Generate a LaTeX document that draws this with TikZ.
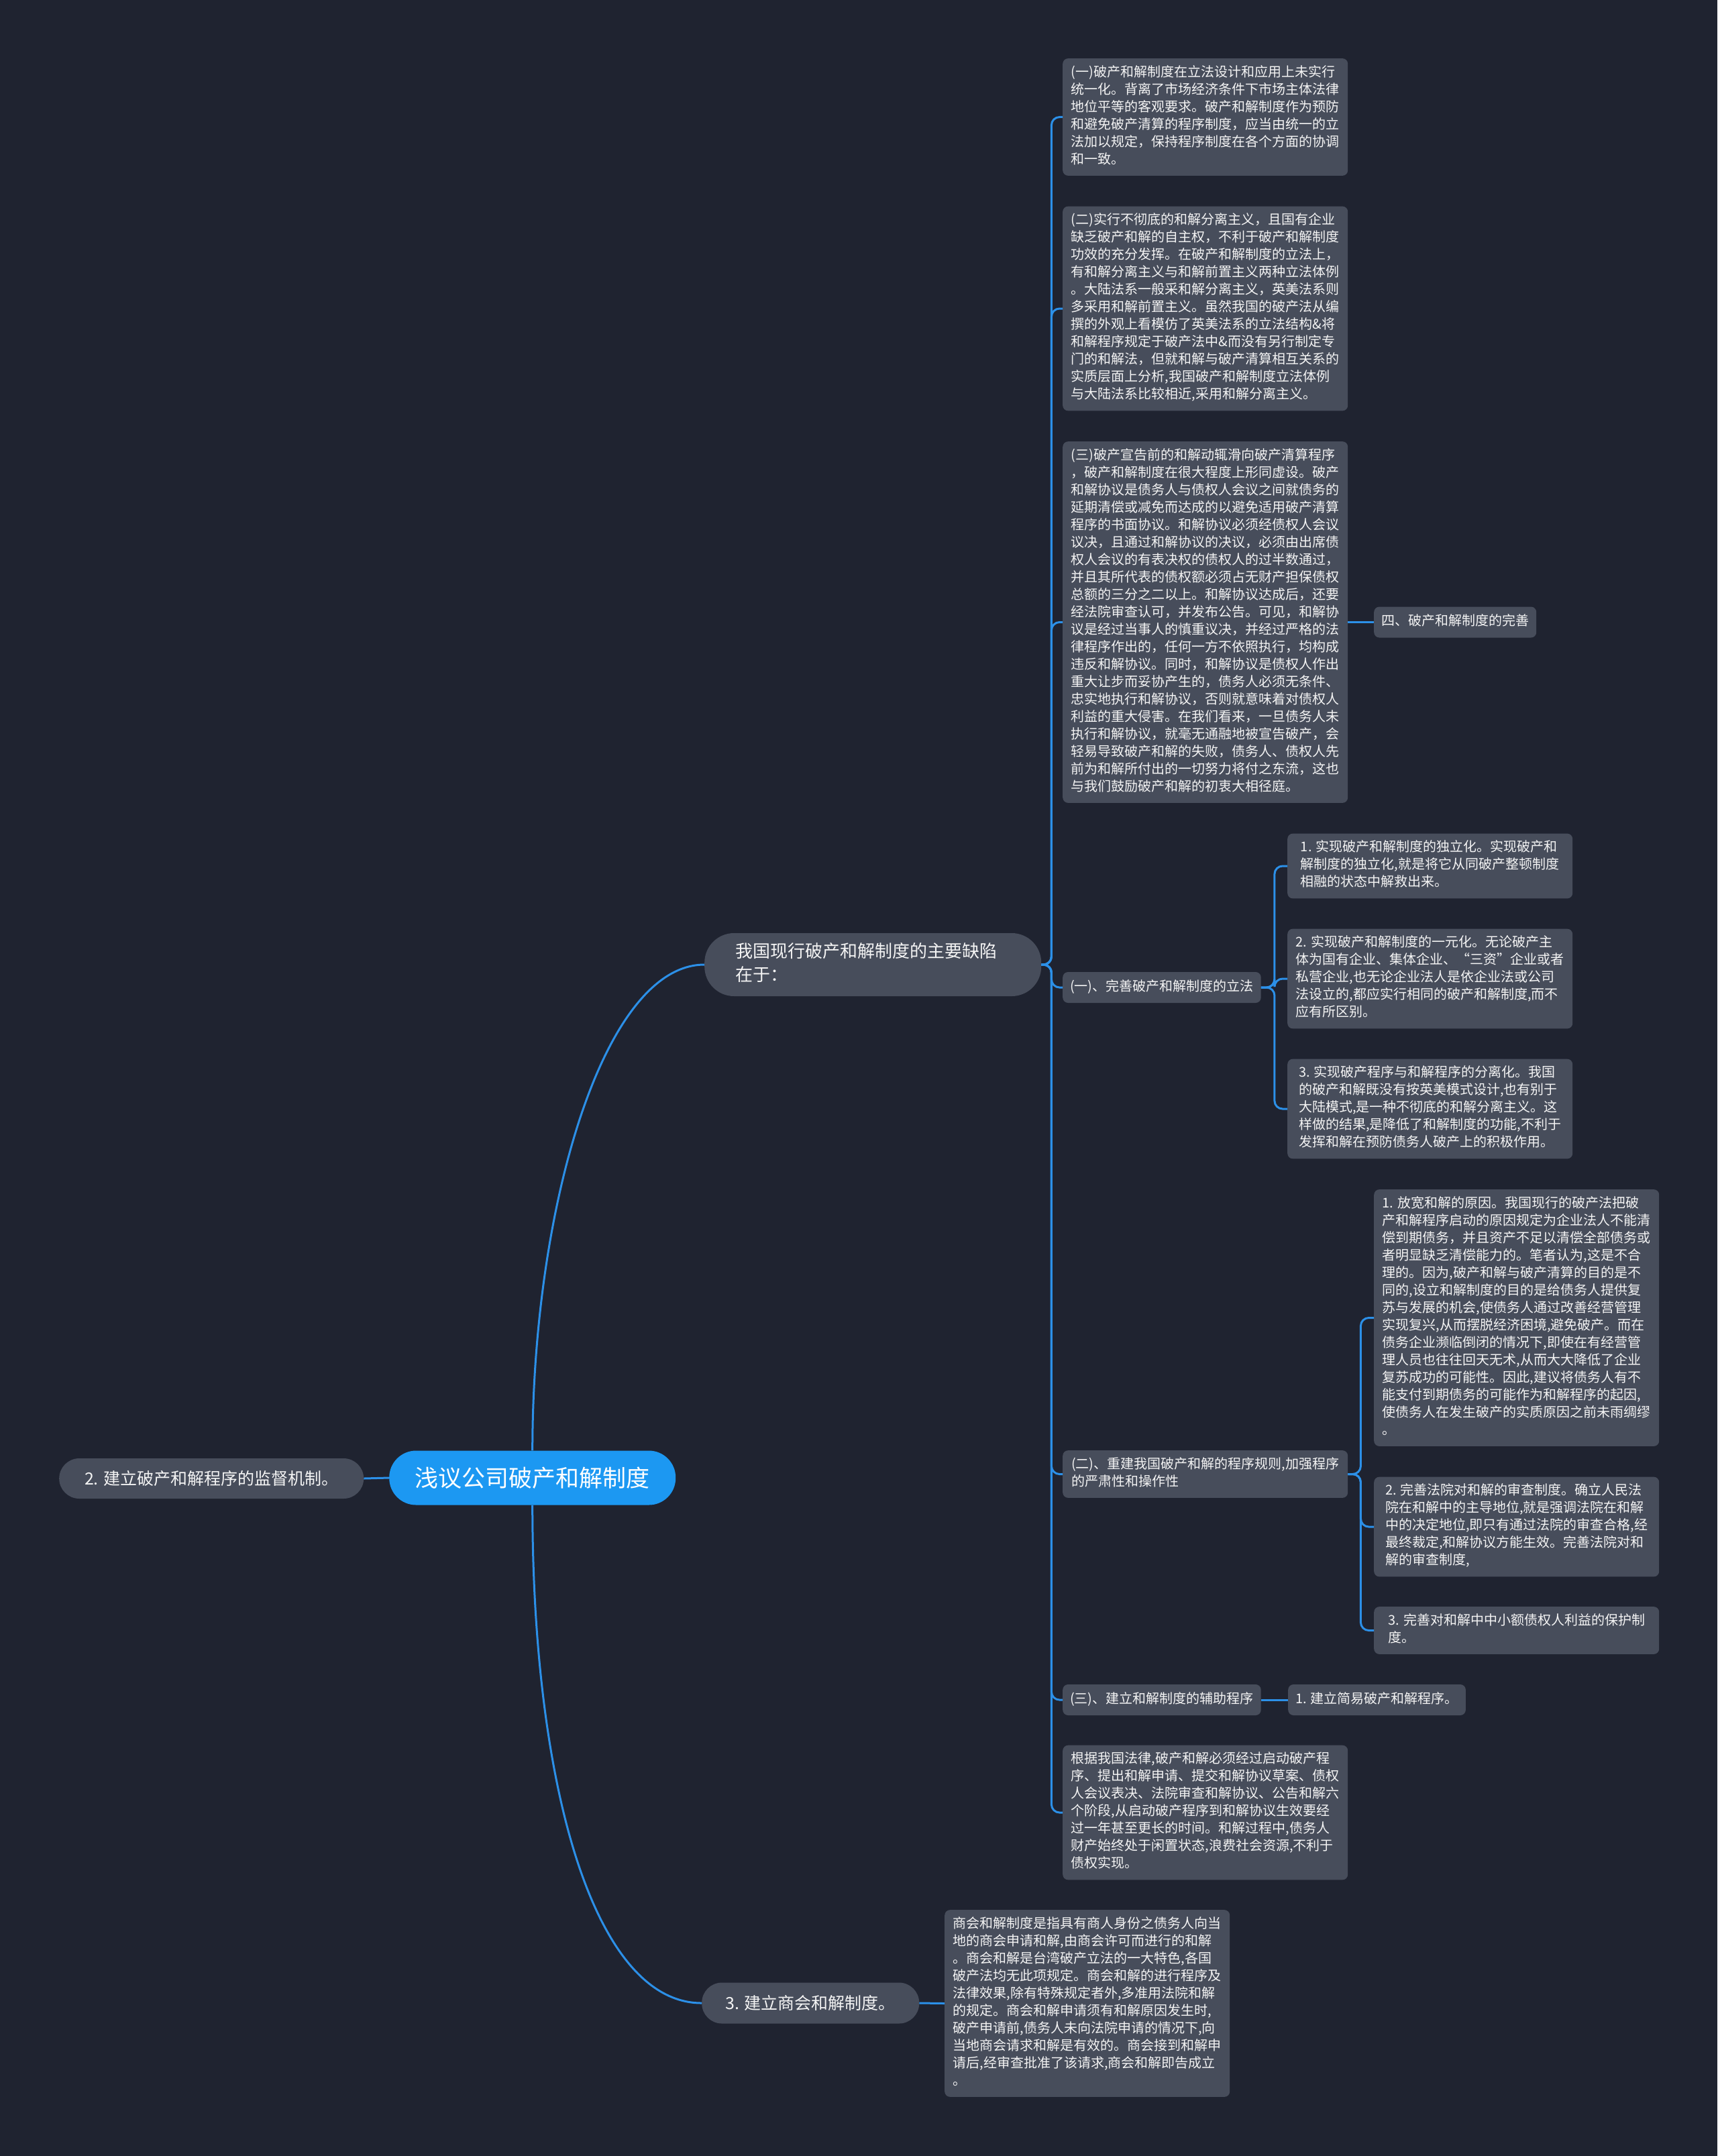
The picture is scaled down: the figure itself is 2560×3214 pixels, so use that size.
\documentclass[tikz,border=0pt]{standalone}
\usepackage{fontspec}
\newfontfamily\cjk{Noto Sans CJK SC}
\definecolor{bgc}{HTML}{1F2330}
\definecolor{boxc}{HTML}{474D5B}
\definecolor{linec}{HTML}{2C90E8}
\definecolor{rootc}{HTML}{1C98F2}
\definecolor{txtc}{HTML}{F4F4F4}
\begin{document}
\begin{tikzpicture}[x=1pt,y=-1pt,
  box/.style={anchor=west, fill=boxc, rounded corners=8pt, text=txtc, align=left,
    font=\cjk\fontsize{20}{26}\selectfont, inner xsep=11pt, inner ysep=10pt,
    execute at begin node=\strut, execute at end node=\strut},
  wbox/.style={box, minimum width=425pt},
  lvlone/.style={anchor=west, fill=boxc, text=txtc,
    font=\cjk\fontsize{25}{35}\selectfont, inner sep=0pt, rounded corners=30pt},
  rootnode/.style={anchor=west, fill=rootc, text=white, rounded corners=40pt,
    minimum width=427pt, minimum height=81pt, inner sep=0pt,
    font=\cjk\fontsize{35}{44}\selectfont},
  conn/.style={draw=linec, line width=3pt},
  elbow/.style={conn, rounded corners=12pt},
]
\fill[bgc] (0,0) rectangle (2560,3214);
\useasboundingbox (0,0) rectangle (2560,3214);

% root and first level
\node[rootnode] (root) at (580,2203) {浅议公司破产和解制度};
\node[lvlone, minimum width=454pt, minimum height=60pt] (L) at (88,2204) {2. 建立破产和解程序的监督机制。};
\node[lvlone, minimum width=502pt, text width=410pt, align=left, inner xsep=46pt, inner ysep=12pt,
  rounded corners=44pt, font=\cjk\fontsize{26}{35}\selectfont,
  execute at begin node=\strut, execute at end node=\strut] (N1) at (1050,1438)
  {我国现行破产和解制度的主要缺陷\\在于：};
\node[lvlone, minimum width=324pt, minimum height=61pt] (N3) at (1046,2986) {3. 建立商会和解制度。};

% children of N1
\node[wbox] (A1) at (1584,174.5) {(一)破产和解制度在立法设计和应用上未实行\\
统一化。背离了市场经济条件下市场主体法律\\
地位平等的客观要求。破产和解制度作为预防\\
和避免破产清算的程序制度，应当由统一的立\\
法加以规定，保持程序制度在各个方面的协调\\
和一致。};
\node[wbox] (A2) at (1584,460) {(二)实行不彻底的和解分离主义，且国有企业\\
缺乏破产和解的自主权，不利于破产和解制度\\
功效的充分发挥。在破产和解制度的立法上，\\
有和解分离主义与和解前置主义两种立法体例\\
。大陆法系一般采和解分离主义，英美法系则\\
多采用和解前置主义。虽然我国的破产法从编\\
撰的外观上看模仿了英美法系的立法结构\&将\\
和解程序规定于破产法中\&而没有另行制定专\\
门的和解法，但就和解与破产清算相互关系的\\
实质层面上分析,我国破产和解制度立法体例\\
与大陆法系比较相近,采用和解分离主义。};
\node[wbox] (A3) at (1584,927.5) {(三)破产宣告前的和解动辄滑向破产清算程序\\
，破产和解制度在很大程度上形同虚设。破产\\
和解协议是债务人与债权人会议之间就债务的\\
延期清偿或减免而达成的以避免适用破产清算\\
程序的书面协议。和解协议必须经债权人会议\\
议决，且通过和解协议的决议，必须由出席债\\
权人会议的有表决权的债权人的过半数通过，\\
并且其所代表的债权额必须占无财产担保债权\\
总额的三分之二以上。和解协议达成后，还要\\
经法院审查认可，并发布公告。可见，和解协\\
议是经过当事人的慎重议决，并经过严格的法\\
律程序作出的，任何一方不依照执行，均构成\\
违反和解协议。同时，和解协议是债权人作出\\
重大让步而妥协产生的，债务人必须无条件、\\
忠实地执行和解协议，否则就意味着对债权人\\
利益的重大侵害。在我们看来，一旦债务人未\\
执行和解协议，就毫无通融地被宣告破产，会\\
轻易导致破产和解的失败，债务人、债权人先\\
前为和解所付出的一切努力将付之东流，这也\\
与我们鼓励破产和解的初衷大相径庭。};
\node[box] (S4) at (2048,927.5) {四、破产和解制度的完善};

\node[box] (A4) at (1584,1472) {(一)、完善破产和解制度的立法};
\node[wbox] (B1) at (1919,1291) {1. 实现破产和解制度的独立化。实现破产和\\
解制度的独立化,就是将它从同破产整顿制度\\
相融的状态中解救出来。};
\node[wbox] (B2) at (1919,1459) {2. 实现破产和解制度的一元化。无论破产主\\
体为国有企业、集体企业、“三资”企业或者\\
私营企业,也无论企业法人是依企业法或公司\\
法设立的,都应实行相同的破产和解制度,而不\\
应有所区别。};
\node[wbox] (B3) at (1919,1653) {3. 实现破产程序与和解程序的分离化。我国\\
的破产和解既没有按英美模式设计,也有别于\\
大陆模式,是一种不彻底的和解分离主义。这\\
样做的结果,是降低了和解制度的功能,不利于\\
发挥和解在预防债务人破产上的积极作用。};

\node[wbox] (A5) at (1584,2197.5) {(二)、重建我国破产和解的程序规则,加强程序\\
的严肃性和操作性};
\node[wbox] (C1) at (2048,1964.5) {1. 放宽和解的原因。我国现行的破产法把破\\
产和解程序启动的原因规定为企业法人不能清\\
偿到期债务，并且资产不足以清偿全部债务或\\
者明显缺乏清偿能力的。笔者认为,这是不合\\
理的。因为,破产和解与破产清算的目的是不\\
同的,设立和解制度的目的是给债务人提供复\\
苏与发展的机会,使债务人通过改善经营管理\\
实现复兴,从而摆脱经济困境,避免破产。而在\\
债务企业濒临倒闭的情况下,即使在有经营管\\
理人员也往往回天无术,从而大大降低了企业\\
复苏成功的可能性。因此,建议将债务人有不\\
能支付到期债务的可能作为和解程序的起因,\\
使债务人在发生破产的实质原因之前未雨绸缪\\
。};
\node[wbox] (C2) at (2048,2276) {2. 完善法院对和解的审查制度。确立人民法\\
院在和解中的主导地位,就是强调法院在和解\\
中的决定地位,即只有通过法院的审查合格,经\\
最终裁定,和解协议方能生效。完善法院对和\\
解的审查制度,};
\node[wbox] (C3) at (2048,2430.5) {3. 完善对和解中中小额债权人利益的保护制\\
度。};

\node[box] (A6) at (1584,2534) {(三)、建立和解制度的辅助程序};
\node[box] (D1) at (1920,2534) {1. 建立简易破产和解程序。};

\node[wbox] (A7) at (1584,2702) {根据我国法律,破产和解必须经过启动破产程\\
序、提出和解申请、提交和解协议草案、债权\\
人会议表决、法院审查和解协议、公告和解六\\
个阶段,从启动破产程序到和解协议生效要经\\
过一年甚至更长的时间。和解过程中,债务人\\
财产始终处于闲置状态,浪费社会资源,不利于\\
债权实现。};

\node[wbox] (SH) at (1408,2986.5) {商会和解制度是指具有商人身份之债务人向当\\
地的商会申请和解,由商会许可而进行的和解\\
。商会和解是台湾破产立法的一大特色,各国\\
破产法均无此项规定。商会和解的进行程序及\\
法律效果,除有特殊规定者外,多准用法院和解\\
的规定。商会和解申请须有和解原因发生时,\\
破产申请前,债务人未向法院申请的情况下,向\\
当地商会请求和解是有效的。商会接到和解申\\
请后,经审查批准了该请求,商会和解即告成立\\
。};

% connectors
\draw[conn] (root.north) .. controls +(0,-363) and +(-150,0) .. (N1.west);
\draw[conn] (root.south) .. controls +(0,420) and +(-160,0) .. (N3.west);
\draw[conn] (root.west) -- (L.east);
\draw[conn] (N3.east) -- (SH.west);

\foreach \c in {A1,A2,A3,A4,A5,A6,A7}
  \draw[elbow] (N1.east) -- ++(15,0) |- (\c.west);
\draw[conn] (A3.east) -- (S4.west);
\foreach \c in {B1,B2,B3}
  \draw[elbow] (A4.east) -- ++(20,0) |- (\c.west);
\foreach \c in {C1,C2,C3}
  \draw[elbow] (A5.east) -- ++(19,0) |- (\c.west);
\draw[conn] (A6.east) -- (D1.west);
\end{tikzpicture}
\end{document}
